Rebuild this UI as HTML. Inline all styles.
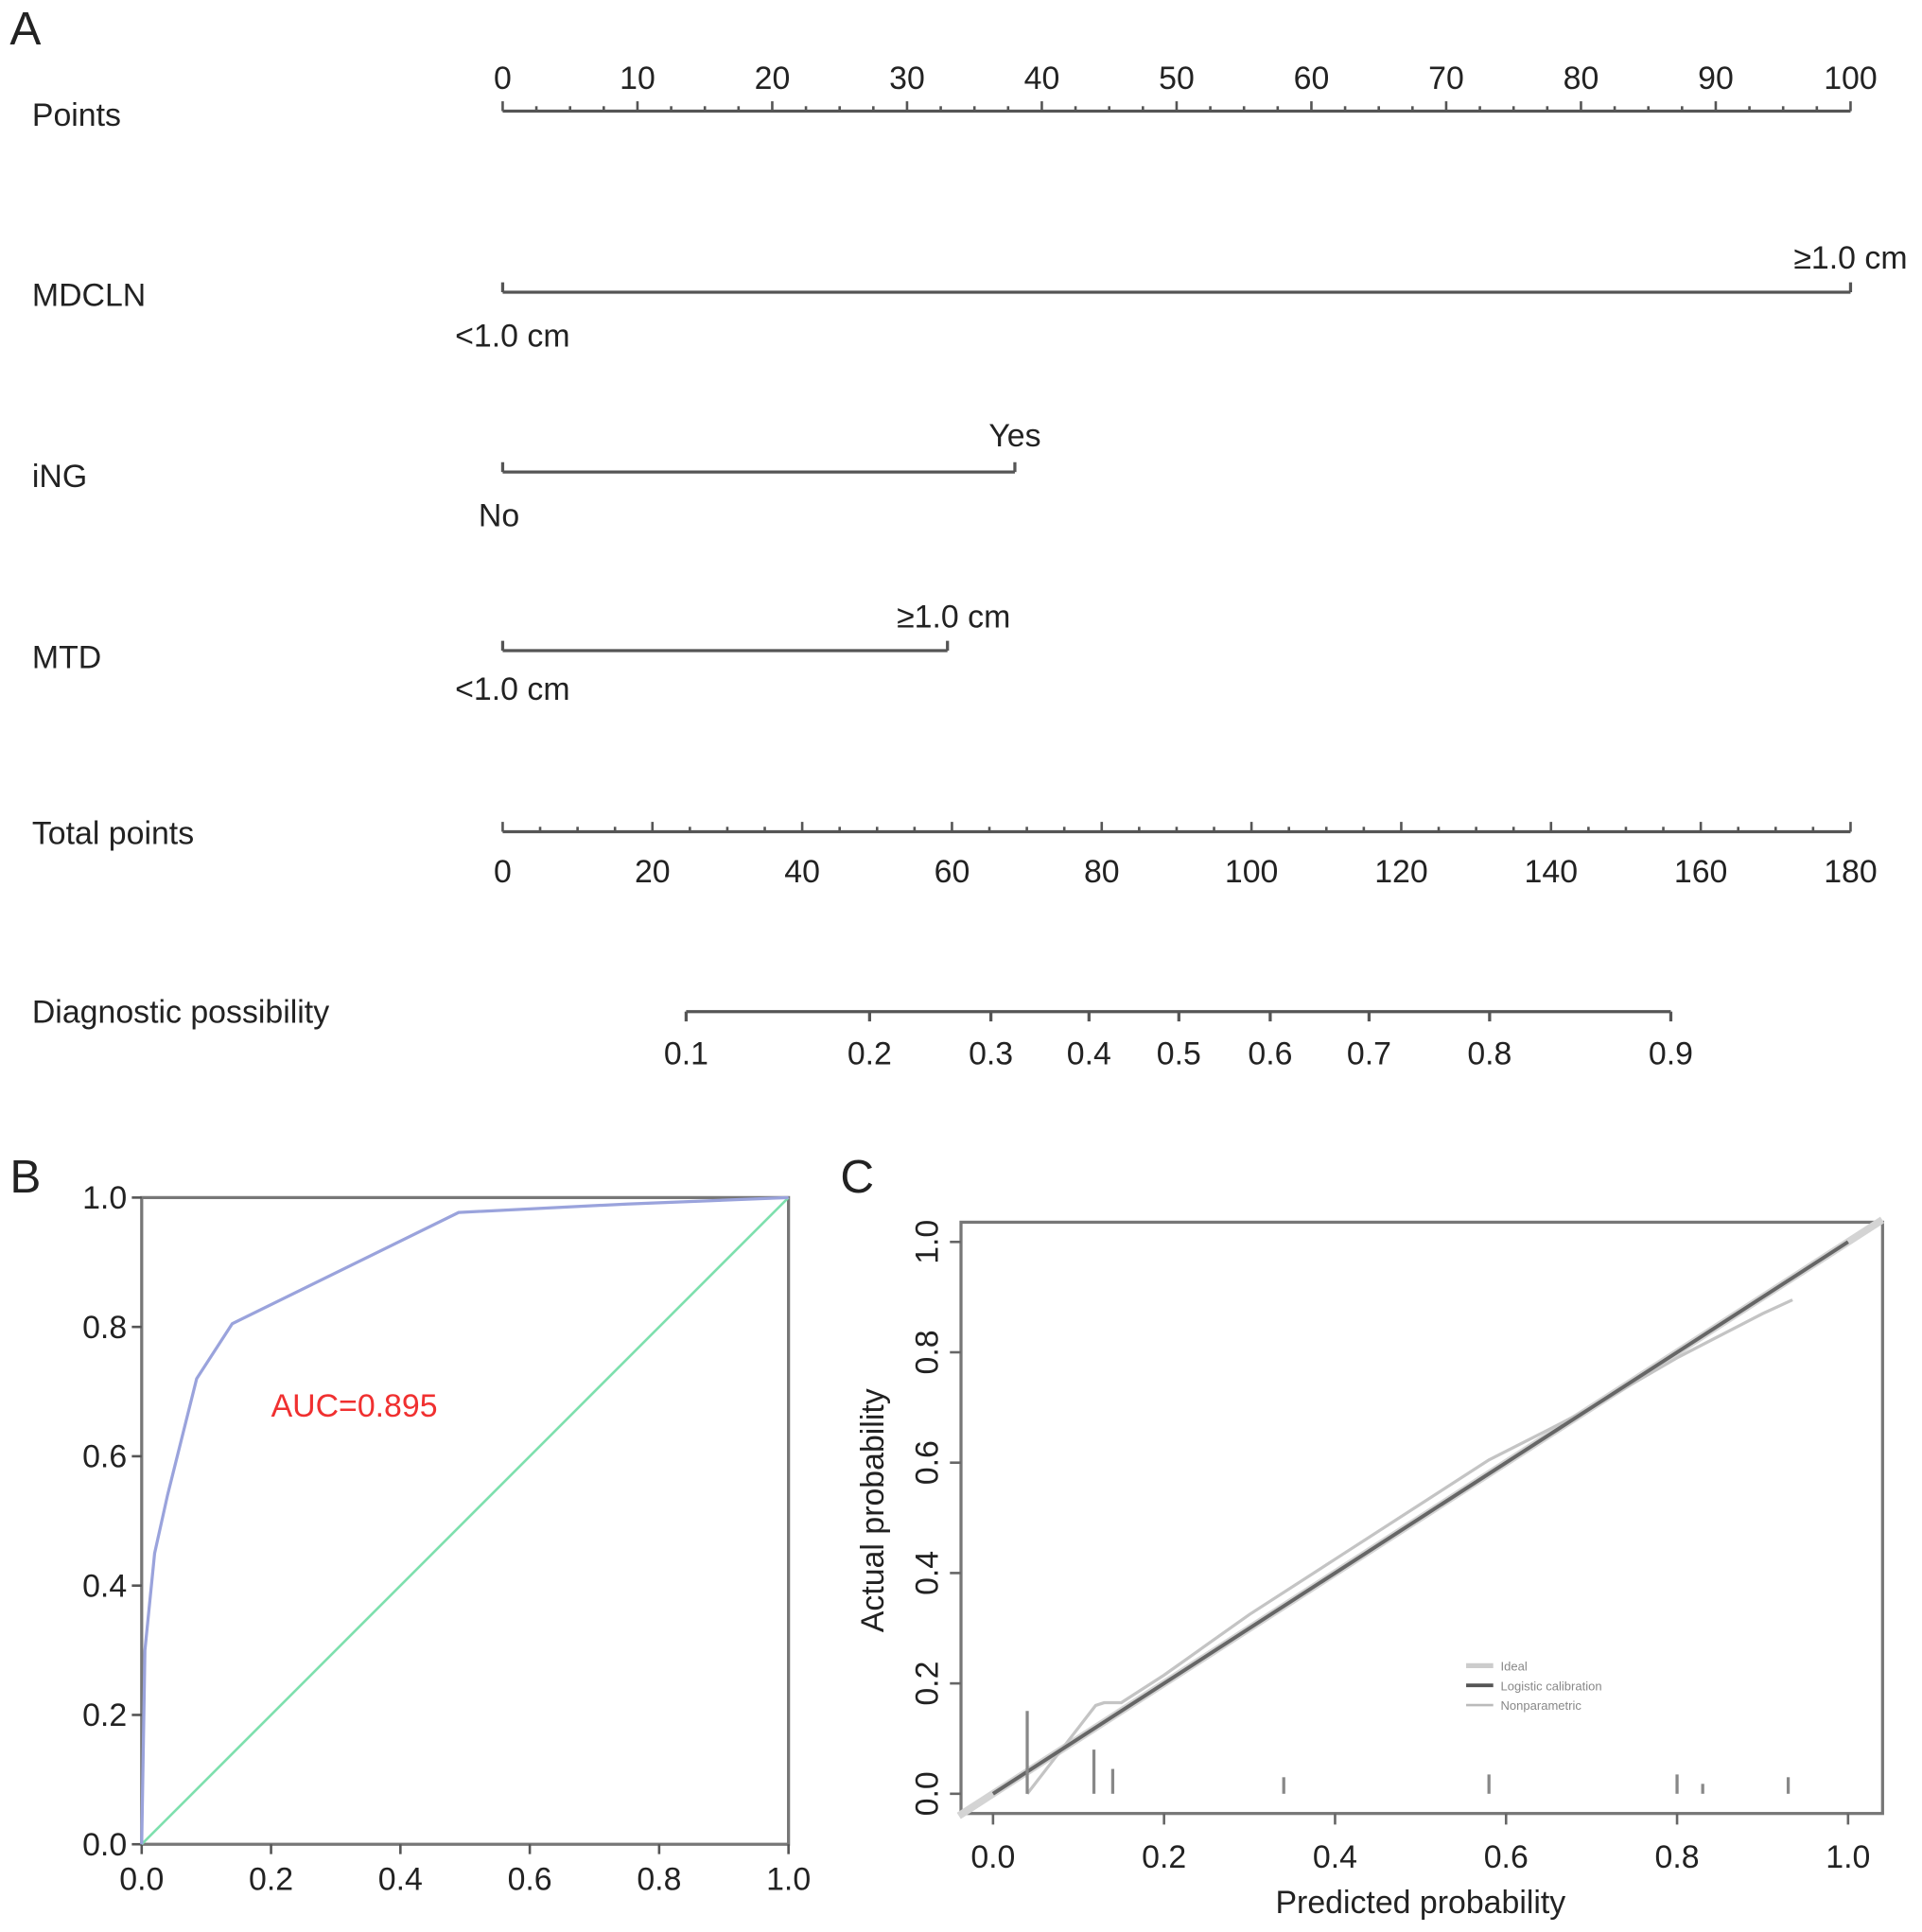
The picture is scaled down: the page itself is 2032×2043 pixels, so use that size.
<!DOCTYPE html>
<html><head><meta charset="utf-8"><style>
html,body{margin:0;padding:0;background:#fff}
svg{display:block}
text{font-family:"Liberation Sans",sans-serif;fill:#222}
</style></head><body>
<svg id="fig" width="2032" height="2043" viewBox="0 0 1560 1568" xmlns="http://www.w3.org/2000/svg">
<g id="panelA"></g>
<g id="panelB"></g>
<g id="panelC"></g>
</svg>
<script>
// ---- data ----
const pointsTicks = [0,10,20,30,40,50,60,70,80,90,100];
const totalTicks = [0,20,40,60,80,100,120,140,160,180];
const probTicks = [0.1,0.2,0.3,0.4,0.5,0.6,0.7,0.8,0.9];
const probTotalPts = [24.5,49.0,65.2,78.3,90.3,102.5,115.7,131.8,156.0];
const mdclnPts = [0,100];
const ingPts = [0,38];
const mtdPts = [0,33];
const rocFpr = [0,0.005,0.02,0.04,0.085,0.14,0.49,0.75,1];
const rocTpr = [0,0.3,0.45,0.54,0.72,0.805,0.977,0.99,1];
const axisTicks = [0,0.2,0.4,0.6,0.8,1.0];
const npX = [0.04,0.07,0.12,0.13,0.15,0.2,0.3,0.4,0.5,0.58,0.65,0.7,0.8,0.9,0.935];
const npY = [0.0,0.06,0.16,0.165,0.165,0.215,0.325,0.425,0.525,0.605,0.66,0.7,0.79,0.87,0.895];
const rugX = [0.04,0.118,0.14,0.34,0.58,0.8,0.83,0.93];
const rugH = [0.15,0.08,0.045,0.03,0.035,0.035,0.018,0.03];

const NS='http://www.w3.org/2000/svg';
function mk(parent,tag,attrs,txt){const e=document.createElementNS(NS,tag);for(const k in attrs)e.setAttribute(k,attrs[k]);if(txt!==undefined)e.textContent=txt;parent.appendChild(e);return e;}
const A=document.getElementById('panelA'),B=document.getElementById('panelB'),C=document.getElementById('panelC');
const FS=26;

// ---- Panel A ----
const ax0=408, ax1=1502;
const pX=v=>ax0+(ax1-ax0)*v/100;
const tX=v=>ax0+(ax1-ax0)*v/180;
let t=mk(A,'text',{x:8,y:36,'font-size':38});


t.textContent='A';
const rows=[['Points',102],['MDCLN',248],['iNG',395],['MTD',542],['Total points',685],['Diagnostic possibility',830]];
rows.forEach(r=>{const e=mk(A,'text',{x:26,y:r[1],'font-size':FS},r[0]);

});
const ln={stroke:'#555','stroke-width':2.5,fill:'none'};
let l=mk(A,'line',Object.assign({x1:ax0,x2:ax1,y1:90,y2:90},ln));


for(let v=0;v<=100;v+=2.5){const maj=v%10===0;mk(A,'line',{x1:pX(v),x2:pX(v),y1:90,y2:maj?82:86,stroke:'#555','stroke-width':2});}
pointsTicks.forEach(v=>{const e=mk(A,'text',{x:pX(v),y:72,'font-size':FS,'text-anchor':'middle'},v);

});
function varLine(pts,y,loLab,hiLab,name,loX,loY,hiY){
  const g=mk(A,'g',{});
  
  
  mk(g,'line',Object.assign({x1:pX(pts[0]),x2:pX(pts[1]),y1:y,y2:y},ln));
  pts.forEach(p=>mk(g,'line',{x1:pX(p),x2:pX(p),y1:y,y2:y-8,stroke:'#555','stroke-width':2.5}));
  mk(g,'text',{x:loX,y:loY,'font-size':FS,'text-anchor':'middle'},loLab);
  mk(g,'text',{x:pX(pts[1])+hiLab[1],y:hiY,'font-size':FS,'text-anchor':'middle'},hiLab[0]);
}
varLine(mdclnPts,237,'<1.0 cm',['≥1.0 cm',0],'mdcln',416,281,218);
varLine(ingPts,383,'No',['Yes',0],'ing',405,427,362);
varLine(mtdPts,528,'<1.0 cm',['≥1.0 cm',5],'mtd',416,568,509);
l=mk(A,'line',Object.assign({x1:ax0,x2:ax1,y1:675,y2:675},ln));


for(let v=0;v<=180;v+=5){const maj=v%20===0;mk(A,'line',{x1:tX(v),x2:tX(v),y1:675,y2:maj?667:671,stroke:'#555','stroke-width':2});}
totalTicks.forEach(v=>{const e=mk(A,'text',{x:tX(v),y:716,'font-size':FS,'text-anchor':'middle'},v);

});
l=mk(A,'line',Object.assign({x1:tX(probTotalPts[0]),x2:tX(probTotalPts[probTotalPts.length-1]),y1:821,y2:821},ln));


probTicks.forEach((v,i)=>{const x=tX(probTotalPts[i]);mk(A,'line',{x1:x,x2:x,y1:821,y2:829,stroke:'#555','stroke-width':2.5});
const e=mk(A,'text',{x:x,y:864,'font-size':FS,'text-anchor':'middle'},v.toFixed(1));

});

// ---- Panel B ----
const bx0=115,bx1=640,by0=1497,by1=972;
const bX=v=>bx0+(bx1-bx0)*v, bY=v=>by0-(by0-by1)*v;
t=mk(B,'text',{x:8,y:968,'font-size':38},'B');


l=mk(B,'rect',{x:bx0,y:by1,width:bx1-bx0,height:by0-by1,fill:'none',stroke:'#777','stroke-width':2.5});


axisTicks.forEach(v=>{
  mk(B,'line',{x1:bX(v),x2:bX(v),y1:by0,y2:by0+8,stroke:'#555','stroke-width':2});
  mk(B,'line',{x1:bx0-8,x2:bx0,y1:bY(v),y2:bY(v),stroke:'#555','stroke-width':2});
  let e=mk(B,'text',{x:bX(v),y:by0+37,'font-size':FS,'text-anchor':'middle'},v.toFixed(1));
  
  
  e=mk(B,'text',{x:bx0-12,y:bY(v)+9,'font-size':FS,'text-anchor':'end'},v.toFixed(1));
  
  
});
l=mk(B,'line',{x1:bX(0),y1:bY(0),x2:bX(1),y2:bY(1),stroke:'#7ee0ae','stroke-width':2});


l=mk(B,'polyline',{points:rocFpr.map((f,i)=>bX(f)+','+bY(rocTpr[i])).join(' '),fill:'none',stroke:'#9aa3dc','stroke-width':2.5});


t=mk(B,'text',{x:220,y:1150,'font-size':FS,fill:'#f03030',style:'fill:#f03030'},'AUC=0.895');



// ---- Panel C ----
const cx0=806,cx1=1500,cy0=1456,cy1=1008;
const cX=v=>cx0+(cx1-cx0)*v, cY=v=>cy0-(cy0-cy1)*v;
t=mk(C,'text',{x:682,y:968,'font-size':38},'C');


l=mk(C,'rect',{x:780,y:992,width:748,height:480,fill:'none',stroke:'#777','stroke-width':2.5});


axisTicks.forEach(v=>{
  mk(C,'line',{x1:cX(v),x2:cX(v),y1:1472,y2:1481,stroke:'#666','stroke-width':2});
  mk(C,'line',{x1:771,x2:780,y1:cY(v),y2:cY(v),stroke:'#666','stroke-width':2});
  let e=mk(C,'text',{x:cX(v),y:1516,'font-size':FS,'text-anchor':'middle'},v.toFixed(1));
  
  
  e=mk(C,'text',{x:0,y:0,'font-size':FS,'text-anchor':'middle',transform:'translate(761,'+cY(v)+') rotate(-90)'},v.toFixed(1));
  
  
});
l=mk(C,'line',{x1:cX(-0.04),y1:cY(-0.04),x2:cX(1.04),y2:cY(1.04),stroke:'#d4d4d4','stroke-width':6});


l=mk(C,'polyline',{points:npX.map((x,i)=>cX(x)+','+cY(npY[i])).join(' '),fill:'none',stroke:'#c4c4c4','stroke-width':2.5});


l=mk(C,'line',{x1:cX(0),y1:cY(0),x2:cX(1),y2:cY(1),stroke:'#666','stroke-width':3});


rugX.forEach((x,i)=>{const e=mk(C,'line',{x1:cX(x),x2:cX(x),y1:cY(0),y2:cY(rugH[i]),stroke:'#888','stroke-width':2.5});

});
const lg=mk(C,'g',{});


[['Ideal','#ccc',4,1352],['Logistic calibration','#555',3,1368],['Nonparametric','#bbb',2,1384]].forEach(r=>{
  mk(lg,'line',{x1:1190,x2:1212,y1:r[3],y2:r[3],stroke:r[1],'stroke-width':r[2]});
  mk(lg,'text',{x:1218,y:r[3]+4,'font-size':10,fill:'#888',style:'fill:#888'},r[0]);
});
t=mk(C,'text',{x:1153,y:1553,'font-size':FS,'text-anchor':'middle'},'Predicted probability');


t=mk(C,'text',{x:0,y:0,'font-size':FS,'text-anchor':'middle',transform:'translate(717,1226) rotate(-90)'},'Actual probability');


</script>
</body></html>
